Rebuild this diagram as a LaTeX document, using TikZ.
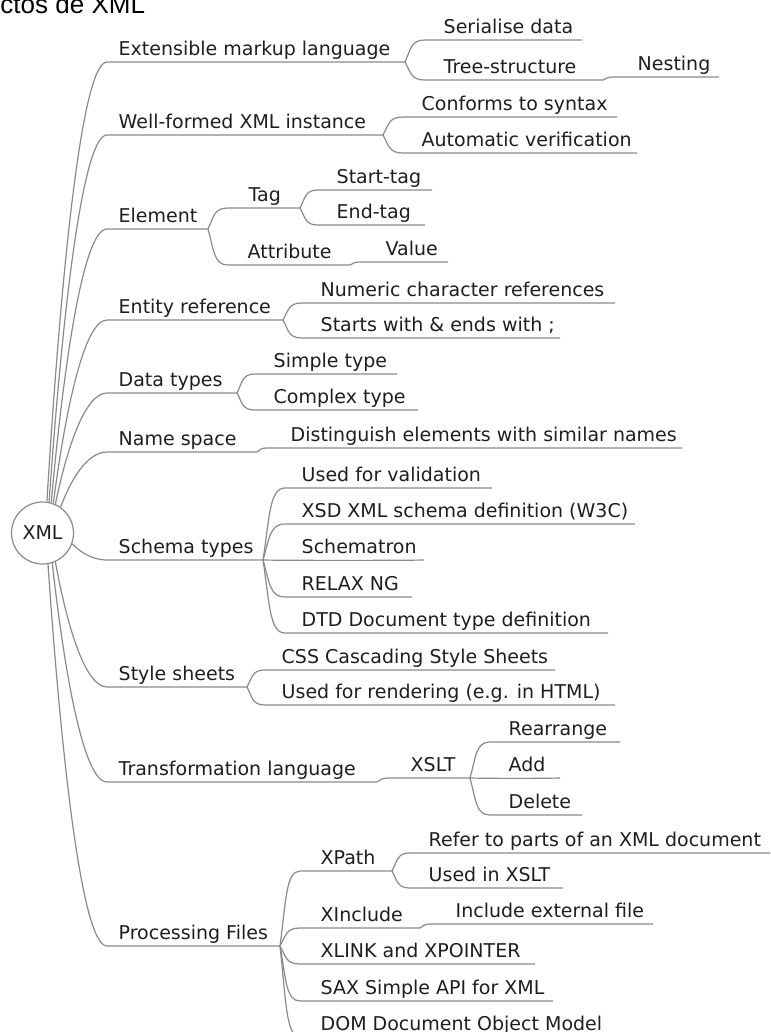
\documentclass[tikz,border=0pt]{standalone}
\usepackage{fontspec}
\setmainfont{DejaVu Sans}
\newfontfamily\titlefam{Liberation Sans}
\usetikzlibrary{calc}
\definecolor{ink}{HTML}{1E1E1E}
\definecolor{linegray}{HTML}{8A8A8A}

% first-level branch: leaves the central circle and lands on the topic's underline
\newcommand\mmmain[5]{%
  \coordinate (#1-o) at (xml.#2);
  \coordinate (#1-s) at (107,#3);
  \coordinate (#1-e) at (#4,#3);
  \node[topic] (#1) at (118.5,#3-6.5) {#5};
  \draw[branch] (#1-o) to[trunk] (#1-s) -- (#1-e);
}
% deeper branch: {name}{parent}{text x}{line y}{line start}{line end}{text}
\newcommand\mmtopic[7]{%
  \coordinate (#1-s) at (#5,#4);
  \coordinate (#1-e) at (#6,#4);
  \node[topic] (#1) at (#3-1.5,#4-6.5) {#7};
  \draw[branch] (#2-e) to[link] (#1-s) -- (#1-e);
}
% deeper branch that runs straight on from its parent's underline
% (drawn as a very flat curve so it is shaded like the other branches)
\newcommand\mmstraight[6]{%
  \coordinate (#1-e) at (#5,#4);
  \node[topic] (#1) at (#3-1.5,#4-6.5) {#6};
  \draw[branch] (#2-e) .. controls +(20,0.5) and +(-20,0.5) .. (#1-e);
}

\begin{document}
\begin{tikzpicture}[x=1pt,y=-1pt,
  topic/.style={anchor=base west, inner sep=0pt, text=ink,
    font=\fontsize{19}{22}\selectfont},
  branch/.style={draw=linegray, line width=1.2pt},
  trunk/.style={to path={let \p1=(\tikztostart), \p2=(\tikztotarget) in
    .. controls ({\x1+0.2*(\x2-\x1)},{\y1+0.45*(\y2-\y1)})
       and ({\x1+0.55*(\x2-\x1)},\y2) .. (\tikztotarget)}},
  link/.style={to path={let \p1=(\tikztostart), \p2=(\tikztotarget) in
    .. controls ({\x1+0.3*(\x2-\x1)},{\y1+0.6*(\y2-\y1)})
       and ({\x1+0.3*(\x2-\x1)},\y2) .. (\tikztotarget)}}]
\path[use as bounding box] (0,0) rectangle (770,1032);
\clip (0,0) rectangle (770,1032);

\node[anchor=base west, inner sep=0pt, text=black,
  font=\titlefam\fontsize{26}{30}\selectfont] (title) at (0.3,13.5) {ctos de XML};

\node[circle, draw=linegray, line width=1.2pt, fill=white, minimum size=62pt,
  inner sep=0pt, text=ink, font=\fontsize{19}{22}\selectfont] (xml) at (42.5,533) {XML};

\mmmain{ext}{82}{62}{405}{Extensible markup language}
\mmmain{wf}{78}{135}{383}{Well-formed XML instance}
\mmmain{elem}{74}{229}{208}{Element}
\mmmain{ent}{70}{320}{283}{Entity reference}
\mmmain{dt}{66}{393}{237}{Data types}
\mmmain{ns}{55}{452}{257}{Name space}
\mmmain{sch}{-20}{560}{263}{Schema types}
\mmmain{css}{-66}{687}{247}{Style sheets}
\mmmain{tl}{-72}{782}{377}{Transformation language}
\mmmain{pf}{-80}{946}{280}{Processing Files}

\mmtopic{ser}{ext}{445}{40}{425}{582}{Serialise data}
\mmtopic{tree}{ext}{445}{80}{425}{603}{Tree-structure}
\mmtopic{nest}{tree}{639}{77}{615}{719}{Nesting}
\mmtopic{conf}{wf}{423}{117}{403}{617}{Conforms to syntax}
\mmtopic{auto}{wf}{423}{153}{403}{637}{Automatic verification}
\mmtopic{tag}{elem}{250}{208}{228}{300}{Tag}
\mmtopic{stag}{tag}{338}{190}{318}{432}{Start-tag}
\mmtopic{etag}{tag}{338}{225}{318}{425}{End-tag}
\mmtopic{attr}{elem}{249}{265}{228}{350}{Attribute}
\mmtopic{val}{attr}{387}{262}{362}{448}{Value}
\mmtopic{num}{ent}{322}{303}{302}{615}{Numeric character references}
\mmtopic{amp}{ent}{322}{338}{302}{560}{Starts with \& ends with ;}
\mmtopic{simple}{dt}{275}{374}{255}{397}{Simple type}
\mmtopic{complex}{dt}{275}{410}{255}{418}{Complex type}
\mmtopic{dist}{ns}{292}{448}{268}{682}{Distinguish elements with similar names}
\mmtopic{valid}{sch}{303}{488}{285}{492}{Used for validation}
\mmtopic{xsd}{sch}{303}{524}{285}{635}{XSD XML schema definition (W3C)}
\mmstraight{stron}{sch}{303}{560}{424}{Schematron}
\mmtopic{relax}{sch}{303}{597}{285}{412}{RELAX NG}
\mmtopic{dtd}{sch}{303}{633}{285}{608}{DTD Document type definition}
\mmtopic{cssc}{css}{283}{670}{265}{555}{CSS Cascading Style Sheets}
\mmtopic{rend}{css}{283}{705}{265}{615}{Used for rendering (e.g. in HTML)}
\mmtopic{xslt}{tl}{412}{778}{390}{470}{XSLT}
\mmtopic{rear}{xslt}{510}{742}{490}{620}{Rearrange}
\mmstraight{add}{xslt}{510}{778}{560}{Add}
\mmtopic{del}{xslt}{510}{815}{490}{582}{Delete}
\mmtopic{xpath}{pf}{322}{871}{300}{392}{XPath}
\mmtopic{refer}{xpath}{430}{853}{410}{770}{Refer to parts of an XML document}
\mmtopic{used}{xpath}{430}{888}{410}{563}{Used in XSLT}
\mmtopic{xinc}{pf}{322}{928}{300}{420}{XInclude}
\mmtopic{incl}{xinc}{457}{924}{432}{653}{Include external file}
\mmtopic{xlink}{pf}{322}{964}{300}{535}{XLINK and XPOINTER}
\mmtopic{sax}{pf}{322}{1001}{300}{553}{SAX Simple API for XML}
\mmtopic{dom}{pf}{322}{1037}{300}{640}{DOM Document Object Model}
\end{tikzpicture}
\end{document}
